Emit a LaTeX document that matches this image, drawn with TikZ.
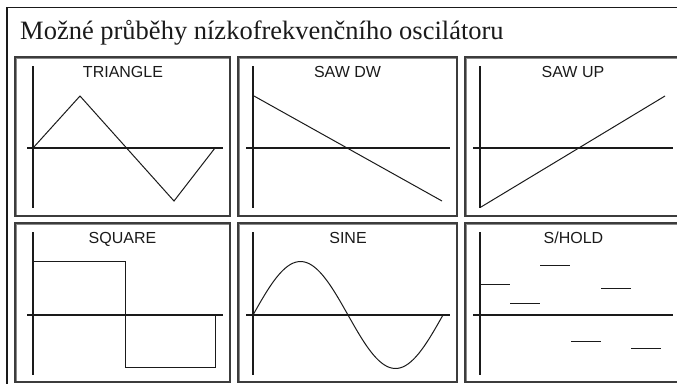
\documentclass[tikz,border=0pt]{standalone}
\usepackage{fontspec}
\setmainfont{Liberation Serif}
\newfontfamily\labelfont{Liberation Sans}
\definecolor{ink}{HTML}{1A1A1A}
\definecolor{rim}{HTML}{8A8A8A}
\tikzset{
  axis/.style={line width=2.3pt, draw=ink},
  wave/.style={line width=1pt, draw=ink},
  panel/.style={line width=1.1pt, draw=ink!85},
  panelrim/.style={line width=1.6pt, draw=rim},
  caption/.style={font=\labelfont\fontsize{16}{17}\selectfont, text=ink, anchor=base, inner sep=0pt}
}
\begin{document}
\begin{tikzpicture}[x=1pt, y=-1pt]
    \useasboundingbox (0,0) rectangle (677,383);
    \clip (0,0) rectangle (677,383);
    % vnejsi ramecek a nadpis
    \draw[line width=1.3pt, draw=ink] (7,7.5) rectangle (700,400);
    \node[anchor=base west, inner sep=0pt, font=\fontsize{26.5}{30}\selectfont, text=ink] (nadpis) at (20,39) {Možné průběhy nízkofrekvenčního oscilátoru};
    % ramecky panelu
    \foreach \xa/\xb in {15/230, 238/457, 465/700} {
        \foreach \ya/\yb in {57/216, 223/382} {
            \draw[panelrim] (\xa+0.8,\ya+0.8) rectangle (\xb,\yb);
            \draw[panel] (\xa,\ya) rectangle (\xb,\yb);
        }
    }
    % prvni rada
    \node[caption] (triangle) at (123,77.5) {TRIANGLE};
    \draw[axis] (33,66) -- (33,208) (27,148) -- (223,148);
    \draw[wave] (33,148) -- (80,96) -- (174,201) -- (215,148);
    \node[caption] (sawdw) at (347.5,77.5) {SAW DW};
    \draw[axis] (253,66) -- (253,208) (246,148) -- (450,148);
    \draw[wave] (254,96) -- (442,201);
    \node[caption] (sawup) at (573,77.5) {SAW UP};
    \draw[axis] (480,66) -- (480,208) (473,148) -- (673,148);
    \draw[wave] (481,207) -- (665,96);
    % druha rada
    \begin{scope}[yshift=-166pt]
        \node[caption] (square) at (122.5,77.5) {SQUARE};
        \draw[axis] (33,66) -- (33,209) (27,149) -- (223,149);
        \draw[wave] (33,149) -- (33,95) -- (125,95) -- (125,201) -- (215,201) -- (215,149);
        \node[caption] (sine) at (348,77.5) {SINE};
        \draw[axis] (253,66) -- (253,209) (246,149) -- (450,149);
        \draw[wave] plot[domain=0:360, samples=72, smooth] ({253+\x/360*190},{149-53.5*sin(\x)});
        \node[caption] (shold) at (573.5,77.5) {S/HOLD};
        \draw[axis] (480,66) -- (480,209) (473,149) -- (673,149);
        % vzorky
        \foreach \xs/\ys in {480/118.3, 510/137.3, 540/99.3, 571/175, 601/122, 631/182.7}
            \draw[wave] (\xs,\ys) -- (\xs+30,\ys);
    \end{scope}
\end{tikzpicture}
\end{document}
